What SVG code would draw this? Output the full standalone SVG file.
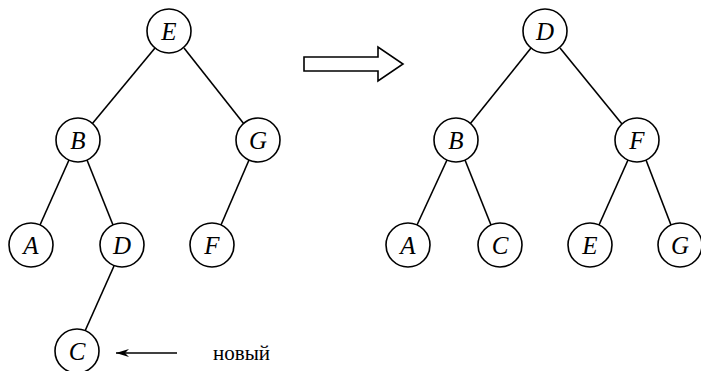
<svg xmlns="http://www.w3.org/2000/svg" width="701" height="371" viewBox="0 0 701 371">
<defs>
<style>
.n circle{fill:#fff;stroke:#000;stroke-width:1.6}
.e line{stroke:#000;stroke-width:1.6}
</style>
<marker id="ah" markerWidth="14" markerHeight="10" refX="13" refY="5" orient="auto" markerUnits="userSpaceOnUse">
<path d="M0,1 L13,5 L0,9 L4,5 Z" fill="#000"/>
</marker>
</defs>
<g id="connectors" class="e">
<line x1="155" y1="48" x2="92" y2="124"/>
<line x1="184" y1="48" x2="244" y2="124"/>
<line x1="69" y1="160" x2="40" y2="225"/>
<line x1="87" y1="160" x2="113" y2="225"/>
<line x1="249" y1="160" x2="221" y2="225"/>
<line x1="114" y1="266" x2="85" y2="331"/>
<line x1="531" y1="48" x2="470" y2="124"/>
<line x1="560" y1="48" x2="622" y2="124"/>
<line x1="447" y1="160" x2="417" y2="225"/>
<line x1="465" y1="160" x2="491" y2="225"/>
<line x1="628" y1="160" x2="599" y2="225"/>
<line x1="646" y1="160" x2="671" y2="225"/>
<line x1="177" y1="353" x2="116" y2="353" marker-end="url(#ah)"/>
</g>
<g id="bigarrow">
<path d="M304,57 L378,57 L378,47 L403,64 L378,81 L378,71 L304,71 Z" fill="#fff" stroke="#000" stroke-width="1.6"/>
</g>
<g font-family="Liberation Serif, Times New Roman, serif" font-style="italic" font-size="25" text-anchor="middle" fill="#000">
<g id="L_E" class="n"><circle cx="169" cy="31" r="22"/><text x="169" y="40">E</text></g>
<g id="L_B" class="n"><circle cx="78" cy="140" r="22"/><text x="78" y="149">B</text></g>
<g id="L_G" class="n"><circle cx="258" cy="140" r="22"/><text x="258" y="149">G</text></g>
<g id="L_A" class="n"><circle cx="31" cy="245" r="22"/><text x="31" y="254">A</text></g>
<g id="L_D" class="n"><circle cx="122" cy="245" r="22"/><text x="122" y="254">D</text></g>
<g id="L_F" class="n"><circle cx="212" cy="245" r="22"/><text x="212" y="254">F</text></g>
<g id="L_C" class="n"><circle cx="77" cy="351" r="22"/><text x="77" y="360">C</text></g>
<g id="R_D" class="n"><circle cx="545" cy="31" r="22"/><text x="545" y="40">D</text></g>
<g id="R_B" class="n"><circle cx="456" cy="140" r="22"/><text x="456" y="149">B</text></g>
<g id="R_F" class="n"><circle cx="637" cy="140" r="22"/><text x="637" y="149">F</text></g>
<g id="R_A" class="n"><circle cx="408" cy="245" r="22"/><text x="408" y="254">A</text></g>
<g id="R_C" class="n"><circle cx="500" cy="245" r="22"/><text x="500" y="254">C</text></g>
<g id="R_E" class="n"><circle cx="590" cy="245" r="22"/><text x="590" y="254">E</text></g>
<g id="R_G" class="n"><circle cx="680" cy="245" r="22"/><text x="680" y="254">G</text></g>
</g>
<text font-family="Liberation Serif, Times New Roman, serif" font-size="21" fill="#000" x="213" y="360">новый</text>
</svg>
